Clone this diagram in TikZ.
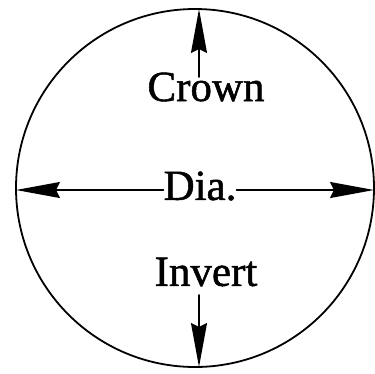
\documentclass[tikz,border=0pt]{standalone}
\usepackage{fontspec}
\newfontfamily\labelfont{Liberation Serif}[FakeBold=1.2]
\usetikzlibrary{arrows.meta}

\tikzset{
    label text/.style={inner sep=0pt, font=\labelfont\fontsize{43}{50}\selectfont},
    dim arrow/.style={line width=1.6pt, -{Stealth[length=44pt, width=16pt, inset=4pt]}}
}

\begin{document}
\begin{tikzpicture}[x=1pt, y=-1pt, line cap=round, line join=round]
\useasboundingbox (0,0) rectangle (375,373);

\node[draw, circle, line width=1.8pt, minimum size=358pt, inner sep=0pt] (pipe) at (195,188) {};

\node[label text] (crown) at (206,87) {Crown};
\node[label text] (dia) at (200,186) {Dia.};
\node[label text] (invert) at (206,272) {Invert};

\coordinate (crowntop) at (199,77);
\coordinate (crowntip) at (199,9);
\coordinate (invertbot) at (199,295);
\coordinate (inverttip) at (199,367);
\coordinate (leftstart) at (dia.west |- 0,190);
\coordinate (rightstart) at (dia.east |- 0,190);
\coordinate (lefttip) at (16,190);
\coordinate (righttip) at (374,190);

\draw[dim arrow] (crowntop) -- (crowntip);
\draw[dim arrow] (invertbot) -- (inverttip);
\draw[dim arrow] (leftstart) -- (lefttip);
\draw[dim arrow] (rightstart) -- (righttip);
\end{tikzpicture}
\end{document}
